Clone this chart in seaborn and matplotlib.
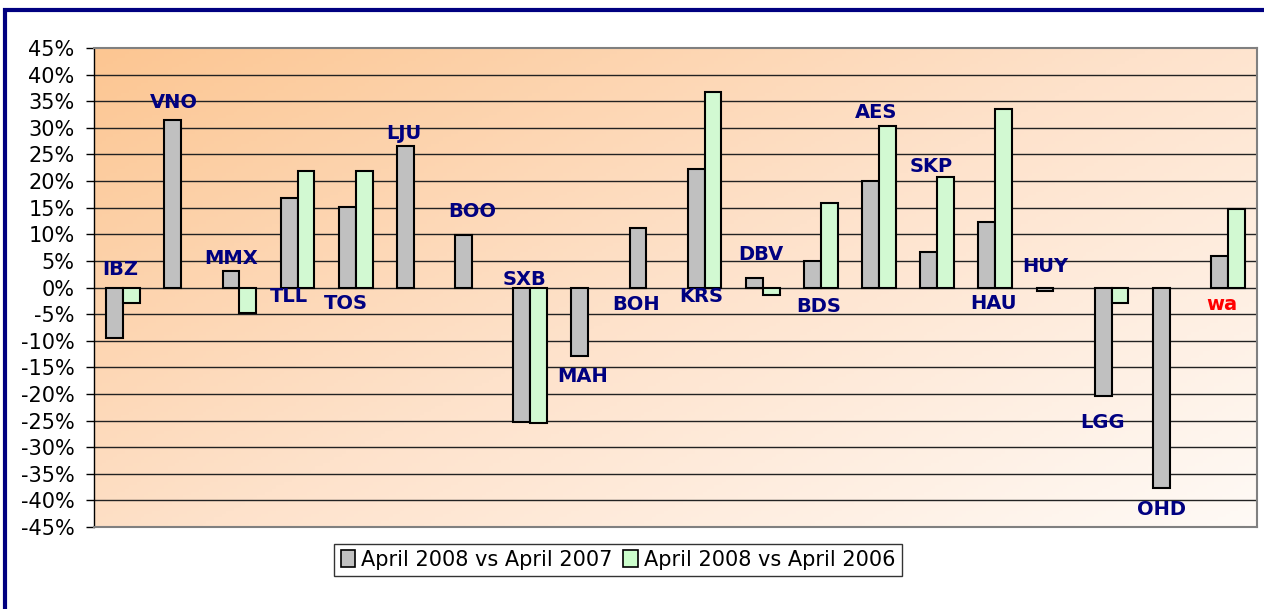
import numpy as np
import pandas as pd
import matplotlib.pyplot as plt
import seaborn as sns
from matplotlib.patches import Rectangle, Patch
from matplotlib.colors import LinearSegmentedColormap

# --- data ---
airports = ["IBZ", "VNO", "MMX", "TLL", "TOS", "LJU", "BOO", "SXB", "MAH", "BOH",
            "KRS", "DBV", "BDS", "AES", "SKP", "HAU", "HUY", "LGG", "OHD", "wa"]
vs_2007 = [-9.5, 31.4, 3.1, 16.9, 15.1, 26.5, 9.8, -25.2, -12.8, 11.2,
           22.2, 1.7, 4.9, 20.1, 6.6, 12.3, -0.7, -20.3, -37.7, 6.0]
vs_2006 = [-2.9, np.nan, -4.7, 21.9, 21.9, np.nan, np.nan, -25.5, np.nan, np.nan,
           36.8, -1.5, 15.9, 30.4, 20.8, 33.6, np.nan, -2.9, np.nan, 14.7]
series = ["April 2008 vs April 2007", "April 2008 vs April 2006"]

# label placement (offset from category centre, y in %)
label_dx = [-0.05, -0.12, -0.15, -0.14, -0.17, -0.17, 0.0, -0.1, -0.1, -0.17,
            -0.05, -0.03, -0.03, -0.05, -0.1, -0.03, -0.14, -0.15, -0.15, -0.1]
label_y = [3.4, 34.8, 5.5, -1.7, -3.0, 29.0, 14.3, 1.5, -16.8, -3.2,
           -1.7, 6.2, -3.6, 32.8, 22.8, -3.0, 4.0, -25.4, -41.8, -3.2]

df = pd.DataFrame({
    "airport": airports * 2,
    "change": vs_2007 + vs_2006,
    "period": [series[0]] * len(airports) + [series[1]] * len(airports),
})

sns.set_theme(style="white")
plt.rcParams['font.family'] = ['DejaVu Sans']
plt.rcParams['text.color'] = 'black'
plt.rcParams['ytick.color'] = 'black'

fig = plt.figure(figsize=(12.64, 6.09), dpi=100)
ax = fig.add_axes([94 / 1264, 1 - 527 / 609, 1163 / 1264, 479 / 609])

# peach gradient background
cmap = LinearSegmentedColormap.from_list("peach", ["#fcc692", "#fee2cb", "#fffaf6"])
gx, gy = np.meshgrid(np.linspace(0, 1, 300), np.linspace(0, 1, 150))
grad = 0.55 * gx + 0.45 * gy
ax.imshow(grad, cmap=cmap, extent=[0, 1, 0, 1], transform=ax.transAxes,
          aspect="auto", origin="upper", zorder=0)

for v in range(-40, 45, 5):
    ax.axhline(v, color="#222222", lw=1, zorder=1)

sns.barplot(data=df, x="airport", y="change", hue="period", order=airports,
            hue_order=series, palette=["#c0c0c0", "#ccffcc"], width=0.58,
            edgecolor="black", linewidth=1.5, errorbar=None, legend=False,
            ax=ax, zorder=3)

for i, name in enumerate(airports):
    ax.text(i + label_dx[i], label_y[i], name, ha="center", va="center",
            fontsize=14, fontweight="bold",
            color="red" if name == "wa" else "#000080", zorder=4)

ax.set_xlim(-0.5, len(airports) - 0.5)
ax.set_ylim(-45, 45)
ax.set_yticks(range(-45, 50, 5))
ax.set_yticklabels([f"{v}%" for v in range(-45, 50, 5)], fontsize=15, color="black")
ax.set_xticks([])
ax.set_xlabel("")
ax.set_ylabel("")
ax.tick_params(axis="y", left=True, length=6, width=1, color="black", pad=8)

for s in ["top", "right", "bottom"]:
    ax.spines[s].set_color("#808080")
    ax.spines[s].set_linewidth(1.5)
ax.spines["left"].set_color("black")
ax.spines["left"].set_linewidth(1)

handles = [Patch(facecolor="#c0c0c0", edgecolor="black", lw=1.2),
           Patch(facecolor="#ccffcc", edgecolor="black", lw=1.2)]
leg = fig.legend(handles, series, loc="center", bbox_to_anchor=(618 / 1264, 1 - 560 / 609),
                 ncol=2, fontsize=15, frameon=True, fancybox=False, edgecolor="black",
                 handlelength=0.7, handleheight=0.9, handletextpad=0.3,
                 columnspacing=0.5, borderpad=0.3, borderaxespad=0)
leg.get_frame().set_linewidth(1)
for t in leg.get_texts():
    t.set_color("black")

# navy outer frame
fig.patches.append(Rectangle((5 / 1264, -0.1), 1.2, 1 - 10 / 609 + 0.1,
                             transform=fig.transFigure, fill=False,
                             edgecolor="#000080", lw=3))

fig.savefig("out.png", dpi=100)
